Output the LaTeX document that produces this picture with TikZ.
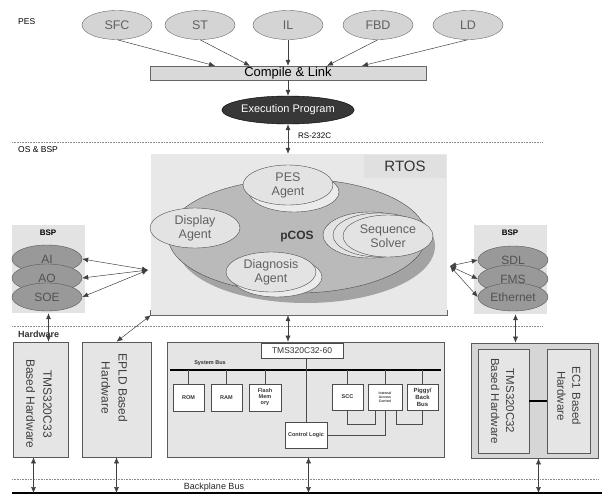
\documentclass[tikz,border=0pt]{standalone}
\usepackage{fontspec}
\setmainfont{Liberation Sans}
\usetikzlibrary{shapes.geometric,arrows.meta,calc}
\newcommand\fsz[2]{\fontsize{#1}{#2}\selectfont}
\begin{document}
\begin{tikzpicture}[x=1pt,y=-1pt,
  lang/.style={ellipse,draw=black!60,fill=black!17,text=black!62,minimum width=70pt,minimum height=29pt,inner sep=0pt,font=\fsz{12.5}{14}},
  agent/.style={ellipse,draw=black!70,fill=black!11,text=black!62,minimum width=90pt,minimum height=40pt,inner sep=0pt,align=center,font=\fsz{12.5}{14}},
  bspell/.style={ellipse,draw=black!65,fill=black!40,text=black!68,minimum width=70pt,minimum height=28pt,inner sep=0pt,font=\fsz{12}{13}},
  panel/.style={fill=black!9,draw=none,inner sep=0pt},
  hwbox/.style={draw=black!65,fill=black!10,line width=0.6pt,inner sep=0pt},
  chip/.style={draw=black!70,fill=white,inner sep=0pt,align=center,font=\fsz{5.5}{6.5}\bfseries,text=black!80},
  tip/.style={draw=black!75,line width=0.5pt,-{Latex[length=6pt,width=5pt]}},
  both/.style={draw=black!75,line width=0.5pt,{Latex[length=6pt,width=5pt]}-{Latex[length=6pt,width=5pt]}},
  link/.style={draw=black!70,line width=0.5pt},
  sep/.style={draw=black!45,densely dotted,line width=0.6pt},
  tag/.style={anchor=west,inner sep=0pt,font=\fsz{8.5}{10}},
  vtext/.style={rotate=-90,align=center,inner sep=0pt,text=black!75}
]
\useasboundingbox (0,0) rectangle (602,495);

% ---------- PES layer ----------
\node[tag] (pes) at (18,22) {PES};
\node[lang] (sfc) at (117,25) {SFC};
\node[lang] (st)  at (200,25) {ST};
\node[lang] (il)  at (288,25) {IL};
\node[lang] (fbd) at (378,25) {FBD};
\node[lang] (ld)  at (468,25) {LD};

\node[draw=black!60,fill=black!15,minimum width=276pt,minimum height=14pt,inner sep=0pt,
      font=\fsz{13}{14}] (comp) at (288,73) {Compile \& Link};

\draw[tip] (sfc.south) -- ($(comp.north)+(-73,0)$);
\draw[tip] (st.south)  -- ($(comp.north)+(-38,0)$);
\draw[tip] (il.south)  -- (comp.north);
\draw[tip] (fbd.south) -- ($(comp.north)+(39,0)$);
\draw[tip] (ld.south)  -- ($(comp.north)+(74,0)$);

\node[ellipse,draw=black,fill=black!78,text=white,minimum width=104pt,minimum height=28pt,
      inner sep=0pt,font=\fsz{11}{12}] (exe) at (288,110) {Execution Program};
\draw[tip] (comp.south) -- (exe.north);
\node[anchor=west,inner sep=0pt,font=\fsz{8}{9}] (rs) at (298,136) {RS-232C};

% layer separators
\coordinate (s1a) at (12,142);  \coordinate (s1b) at (543,142);
\coordinate (s2a) at (12,326);  \coordinate (s2b) at (543,326);
\coordinate (s3a) at (12,479);  \coordinate (s3b) at (598,479);
\draw[sep] (s1a) -- (s1b);
\draw[sep] (s2a) -- (s2b);
\draw[sep] (s3a) -- (s3b);

% ---------- OS & BSP layer ----------
\node[tag] (osbsp) at (18,150) {OS \& BSP};

\node[panel,minimum width=296pt,minimum height=161pt] (rtos) at (299,234.5) {};
\draw[draw=black!60,line width=0.8pt] ($(rtos.south west)+(0,-5)$) -- (rtos.south west)
      -- (rtos.south east) -- ($(rtos.south east)+(0,-5)$);
\node[fill=black!12,minimum width=82pt,minimum height=23pt,inner sep=0pt,font=\fsz{15}{16},
      text=black!80] (rtoslbl) at (405,166.5) {RTOS};
\draw[both] (exe.south) -- (exe.south |- rtos.north);

% pCOS kernel with its agents
\node[ellipse,fill=black!36,minimum width=258pt,minimum height=114pt,inner sep=0pt] (pcossh) at (306,246) {};
\node[ellipse,draw=black!70,fill=black!27,minimum width=258pt,minimum height=114pt,inner sep=0pt] (pcos) at (297,236) {};
\node[font=\fsz{12}{13}\bfseries,text=black!80,inner sep=0pt] (pcoslbl) at (297,237) {pCOS};

\node[agent,fill=black!8] (pessh) at (294,192) {};
\node[agent] (pesag) at (288,185) {PES\\Agent};
\node[agent] (disp) at (195,228) {Display\\Agent};
\node[agent,fill=black!8] (diagsh) at (277,277) {};
\node[agent] (diag) at (271,272) {Diagnosis\\Agent};
\node[agent,minimum width=94pt,minimum height=46pt] (seq3) at (370,235) {};
\node[agent,minimum width=92pt,minimum height=44pt] (seq2) at (379,235) {};
\node[agent,minimum width=90pt,minimum height=42pt] (seq) at (388,236) {Sequence\\Solver};

% left BSP
\node[panel,fill=black!11,minimum width=73pt,minimum height=88pt] (bspL) at (48.5,269) {};
\node[inner sep=0pt,font=\fsz{8}{9}\bfseries] (bspLl) at (48,233) {BSP};
\node[bspell] (ai)  at (47,259) {AI};
\node[bspell] (ao)  at (47,278) {AO};
\node[bspell] (soe) at (47,297) {SOE};
\coordinate (hubL) at (148,270);
\draw[both] (ai.east)  -- (hubL);
\draw[both] (ao.east)  -- (hubL);
\draw[both] (soe.east) -- (hubL);

% right BSP
\node[panel,fill=black!11,minimum width=73pt,minimum height=89pt] (bspR) at (510.5,269.5) {};
\node[inner sep=0pt,font=\fsz{8}{9}\bfseries] (bspRl) at (510,233) {BSP};
\node[bspell] (sdl) at (513,260) {SDL};
\node[bspell] (fms) at (513,279) {FMS};
\node[bspell] (eth) at (513,297) {Ethernet};
\coordinate (hubR) at (450,266);
\draw[both] (hubR) -- (sdl.west);
\draw[both] (hubR) -- (fms.west);
\draw[both] (hubR) -- (eth.west);

% ---------- Hardware layer ----------
\node[tag,font=\fsz{9}{10}\bfseries,text=black!80] (hwlbl) at (18,334) {Hardware};

\node[hwbox,minimum width=55pt,minimum height=115pt] (hw33) at (40.5,399.5) {};
\node[vtext,font=\fsz{12}{17}] (hw33t) at (39,404) {TMS320C33\\Based Hardware};
\node[hwbox,minimum width=69pt,minimum height=115pt] (epld) at (116.5,399.5) {};
\node[vtext,font=\fsz{12}{17}] (epldt) at (114.5,388) {EPLD Based\\Hardware};

\node[hwbox,minimum width=277pt,minimum height=115pt] (hwmain) at (305.5,399.5) {};
\node[chip,font=\fsz{8.5}{9},minimum width=82pt,minimum height=15pt] (tms60) at (302,350.5) {TMS320C32-60};
\coordinate (busL) at (170,370);
\coordinate (busR) at (441,370);
\draw[line width=1.8pt] (busL) -- (busR);
\node[inner sep=0pt,font=\fsz{5.5}{6}\bfseries,text=black!80] (buslbl) at (210,363.5) {System Bus};

\node[chip,minimum width=31pt,minimum height=27pt] (rom) at (188.5,397.5) {ROM};
\node[chip,minimum width=31pt,minimum height=27pt] (ram) at (226.5,397.5) {RAM};
\node[chip,minimum width=32pt,minimum height=27pt,font=\fsz{5.5}{6}\bfseries] (flash) at (265,397.5) {Flash\\Mem\\ory};
\node[chip,minimum width=31pt,minimum height=26pt] (scc) at (347.5,397) {SCC};
\node[chip,minimum width=34pt,minimum height=26pt,font=\fsz{3.5}{4.2}\bfseries] (iac) at (385,397) {Internal\\Access\\Control};
\node[chip,minimum width=31pt,minimum height=26pt,font=\fsz{6}{7}\bfseries] (pig) at (422.5,397) {Piggy/\\Back\\Bus};
\node[chip,minimum width=42pt,minimum height=26pt] (ctl) at (306,435) {Control Logic};

\draw[link] (rom.north) -- (rom.north |- busL);
\draw[link] (ram.north) -- (ram.north |- busL);
\draw[link] (flash.north) -- (flash.north |- busL);
\draw[link] (scc.north) -- (scc.north |- busL);
\draw[link] (iac.north) -- (iac.north |- busL);
\draw[link] (pig.north) -- (pig.north |- busL);
\draw[link] (tms60.south -| ctl.north) -- (ctl.north);
\coordinate (iacL) at ($(iac.south)+(-10,0)$);
\coordinate (iacR) at ($(iac.south)+(11,0)$);
\coordinate (loopA) at ($(scc.south)+(0,14)$);
\coordinate (loopB) at ($(iacR)+(0,14)$);
\draw[link] (scc.south) -- (loopA) -| (iacL);
\draw[link] (iacR) -- (loopB) -| (pig.south);
\draw[link] (iac.south) |- (ctl.east);

% right hardware group
\node[hwbox,fill=black!16,minimum width=127pt,minimum height=115pt] (hwr) at (534.5,400.5) {};
\node[hwbox,minimum width=51pt,minimum height=104pt] (c32) at (503.5,401) {};
\node[vtext,font=\fsz{11.5}{15}] (c32t) at (502.5,401) {TMS320C32\\Based Hardware};
\node[hwbox,minimum width=43pt,minimum height=104pt] (ec1) at (568.5,401) {};
\node[vtext,font=\fsz{11.5}{15}] (ec1t) at (569,396) {EC1 Based\\Hardware};
\draw[line width=2pt] (c32.east) -- (ec1.west);

% vertical links between layers
\coordinate (bspRout) at ($(bspR.south)+(5,0)$);
\draw[both] (bspL.south) -- (bspL.south |- hw33.north);
\draw[both] (rtos.south west) -- (epld.north);
\draw[both] (rtos.south -| exe.south) -- (hwmain.north -| exe.south);
\draw[both] (bspRout) -- (bspRout |- hwr.north);

% backplane
\coordinate (bpL) at (12,493);
\coordinate (bpR) at (602,493);
\draw[line width=2.4pt] (bpL) -- (bpR);
\node[inner sep=0pt,font=\fsz{9}{10},text=black!85] (bplbl) at (214,487) {Backplane Bus};
\coordinate (o33) at ($(hw33.south)+(-7,0)$);
\coordinate (omain) at ($(hwmain.south)+(3,0)$);
\coordinate (oright) at ($(hwr.south)+(4,0)$);
\draw[both] (o33) -- (o33 |- bpL);
\draw[both] (epld.south) -- (epld.south |- bpL);
\draw[both] (omain) -- (omain |- bpL);
\draw[both] (oright) -- (oright |- bpL);
\end{tikzpicture}
\end{document}
